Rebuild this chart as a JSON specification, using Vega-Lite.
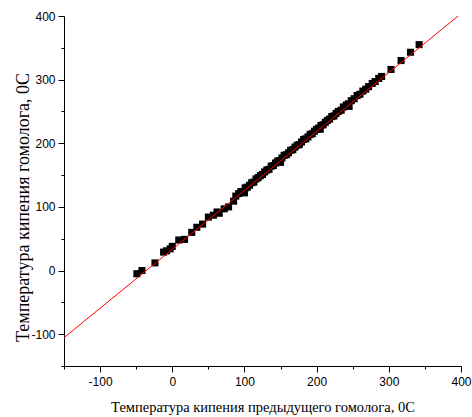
{
  "$schema": "https://vega.github.io/schema/vega-lite/v6.json",
  "width": 397,
  "height": 350,
  "autosize": {"type": "none"},
  "padding": {"left": 64, "top": 16, "right": 11, "bottom": 51},
  "background": "white",
  "config": {"view": {"stroke": null}},
  "datasets": {
    "pts": [
      {"x": -49, "y": -5}, {"x": -42, "y": 0}, {"x": -24, "y": 12}, {"x": -12, "y": 29}, {"x": -8, "y": 31},
      {"x": -3, "y": 34}, {"x": 0, "y": 38}, {"x": 9, "y": 48}, {"x": 17, "y": 49}, {"x": 27, "y": 60},
      {"x": 34, "y": 68}, {"x": 42, "y": 73}, {"x": 50, "y": 84}, {"x": 57, "y": 87}, {"x": 62, "y": 92},
      {"x": 65, "y": 90}, {"x": 72, "y": 97}, {"x": 78, "y": 100}, {"x": 85, "y": 109}, {"x": 88, "y": 117},
      {"x": 92, "y": 121}, {"x": 95, "y": 124}, {"x": 98, "y": 124}, {"x": 100, "y": 122}, {"x": 101, "y": 130},
      {"x": 104, "y": 131}, {"x": 107, "y": 134}, {"x": 110, "y": 138}, {"x": 113, "y": 139}, {"x": 116, "y": 144},
      {"x": 119, "y": 146}, {"x": 122, "y": 149}, {"x": 125, "y": 151}, {"x": 128, "y": 155}, {"x": 131, "y": 158},
      {"x": 134, "y": 159}, {"x": 137, "y": 164}, {"x": 140, "y": 165}, {"x": 143, "y": 169}, {"x": 146, "y": 172},
      {"x": 149, "y": 173}, {"x": 150, "y": 170}, {"x": 152, "y": 177}, {"x": 155, "y": 181}, {"x": 158, "y": 182},
      {"x": 161, "y": 185}, {"x": 164, "y": 189}, {"x": 167, "y": 190}, {"x": 170, "y": 194}, {"x": 173, "y": 197},
      {"x": 176, "y": 198}, {"x": 179, "y": 202}, {"x": 182, "y": 206}, {"x": 185, "y": 207}, {"x": 188, "y": 210},
      {"x": 191, "y": 214}, {"x": 194, "y": 215}, {"x": 197, "y": 219}, {"x": 200, "y": 222}, {"x": 203, "y": 224},
      {"x": 205, "y": 222}, {"x": 206, "y": 228}, {"x": 209, "y": 229}, {"x": 212, "y": 233}, {"x": 215, "y": 236},
      {"x": 218, "y": 238}, {"x": 221, "y": 242}, {"x": 224, "y": 243}, {"x": 227, "y": 247}, {"x": 230, "y": 250},
      {"x": 234, "y": 252}, {"x": 237, "y": 257}, {"x": 241, "y": 260}, {"x": 244, "y": 262}, {"x": 245, "y": 258},
      {"x": 248, "y": 267}, {"x": 252, "y": 270}, {"x": 256, "y": 275}, {"x": 260, "y": 277}, {"x": 264, "y": 282},
      {"x": 268, "y": 285}, {"x": 272, "y": 289}, {"x": 277, "y": 294}, {"x": 281, "y": 297}, {"x": 286, "y": 302},
      {"x": 290, "y": 305}, {"x": 303, "y": 316}, {"x": 317, "y": 330}, {"x": 330, "y": 343}, {"x": 342, "y": 355}
    ],
    "fit": [
      {"x": -150, "y": -105.5},
      {"x": 396, "y": 400}
    ]
  },
  "encoding": {
    "x": {
      "field": "x", "type": "quantitative",
      "scale": {"domain": [-150, 400], "nice": false, "zero": false},
      "axis": {
        "orient": "bottom",
        "title": "Температура кипения предыдущего гомолога, 0С",
        "titleFont": "Liberation Serif", "titleFontSize": 14.5, "titleFontWeight": "normal", "titleColor": "#000",
        "titlePadding": 13,
        "values": [-150, -100, -50, 0, 50, 100, 150, 200, 250, 300, 350, 400],
        "labelExpr": "datum.value % 100 === 0 ? datum.value : ''",
        "labelFont": "Liberation Sans", "labelFontSize": 12, "labelColor": "#000", "labelPadding": 4,
        "tickSize": {"condition": {"test": "datum.value % 100 === 0", "value": 6}, "value": 3},
        "tickColor": "#000", "domainColor": "#000", "grid": false, "labelFlush": false, "labelOverlap": false
      }
    },
    "y": {
      "field": "y", "type": "quantitative",
      "scale": {"domain": [-150, 400], "nice": false, "zero": false},
      "axis": {
        "orient": "left",
        "title": "Температура кипения гомолога, 0С",
        "titleFont": "Liberation Serif", "titleFontSize": 18, "titleFontWeight": "normal", "titleColor": "#000",
        "titlePadding": -2,
        "titleY": 191,
        "values": [-150, -100, -50, 0, 50, 100, 150, 200, 250, 300, 350, 400],
        "labelExpr": "datum.value % 100 === 0 ? datum.value : ''",
        "labelFont": "Liberation Sans", "labelFontSize": 12, "labelColor": "#000", "labelPadding": 3,
        "tickSize": {"condition": {"test": "datum.value % 100 === 0", "value": 6}, "value": 3},
        "tickColor": "#000", "domainColor": "#000", "grid": false, "labelFlush": false, "labelOverlap": false
      }
    }
  },
  "layer": [
    {
      "data": {"name": "pts"},
      "mark": {"type": "square", "size": 50, "color": "#000", "opacity": 1, "filled": true}
    },
    {
      "data": {"name": "fit"},
      "mark": {"type": "line", "color": "#ff0000", "strokeWidth": 1, "clip": true}
    }
  ]
}
